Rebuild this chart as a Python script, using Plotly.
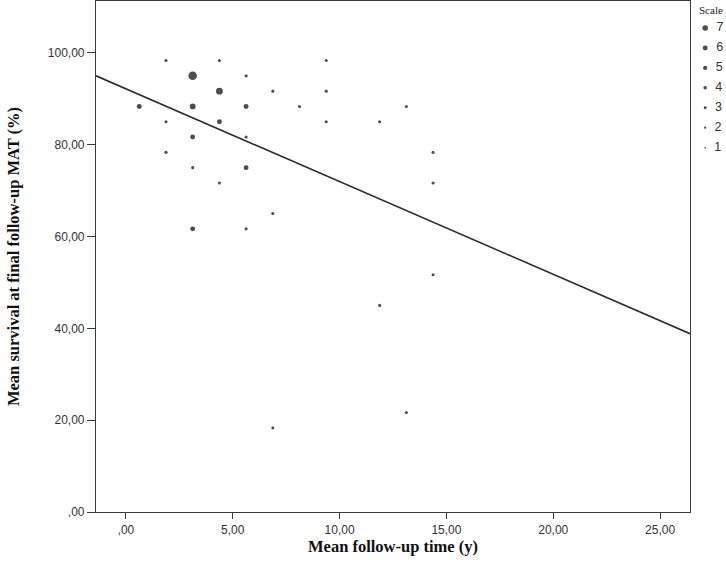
import plotly.graph_objects as go

# binned mean follow-up time (y), mean survival (%) and number of studies per point
follow_up = [1.875, 4.375, 9.375, 3.125, 5.625, 4.375, 6.875, 9.375,
             0.625, 3.125, 5.625, 8.125, 13.125, 1.875, 4.375, 9.375,
             11.875, 3.125, 5.625, 1.875, 14.375, 3.125, 5.625, 4.375,
             14.375, 6.875, 3.125, 5.625, 14.375, 11.875, 13.125, 6.875]
survival = [98.33, 98.33, 98.33, 95.0, 95.0, 91.67, 91.67, 91.67,
            88.33, 88.33, 88.33, 88.33, 88.33, 85.0, 85.0, 85.0,
            85.0, 81.67, 81.67, 78.33, 78.33, 75.0, 75.0, 71.67,
            71.67, 65.0, 61.67, 61.67, 51.67, 45.0, 21.67, 18.33]
scale = [1, 1, 1, 7, 1, 5, 1, 1,
         3, 4, 3, 1, 1, 1, 3, 1,
         1, 3, 1, 1, 1, 1, 3, 1,
         1, 1, 3, 1, 1, 1, 1, 1]

# fitted line: survival = intercept + slope * time
fit_intercept = 92.17
fit_slope = -2.02

legend_scale = [7, 6, 5, 4, 3, 2, 1]

x_ticks = [0, 5, 10, 15, 20, 25]
x_labels = [",00", "5,00", "10,00", "15,00", "20,00", "25,00"]
y_ticks = [0, 20, 40, 60, 80, 100]
y_labels = [",00", "20,00", "40,00", "60,00", "80,00", "100,00"]

X_RANGE = [-1.4, 26.4]
Y_RANGE = [0, 111.3]

AXIS_COL = "#3a3a3a"
TICK_FONT = dict(family="Liberation Sans, Arial", size=12, color="#333333")
TITLE_FONT = dict(family="Liberation Serif, Times New Roman", size=16.5, color="#111111")

fig = go.Figure()

fig.add_trace(go.Scatter(
    x=X_RANGE,
    y=[fit_intercept + fit_slope * v for v in X_RANGE],
    mode="lines",
    line=dict(color="#2b2b2b", width=1.6),
    hoverinfo="skip",
))

fig.add_trace(go.Scatter(
    x=follow_up,
    y=survival,
    mode="markers",
    marker=dict(color="black", size=[2.2 + 0.9 * s for s in scale], line=dict(width=0)),
    customdata=scale,
    hovertemplate="%{x}, %{y} (n=%{customdata})<extra></extra>",
))

# "Scale" key drawn on its own small axes to the right of the frame
fig.add_trace(go.Scatter(
    x=[0] * len(legend_scale),
    y=legend_scale,
    xaxis="x2",
    yaxis="y2",
    mode="markers+text",
    text=["\u00a0\u00a0" + str(s) for s in legend_scale],
    textposition="middle right",
    textfont=dict(family="Liberation Sans, Arial", size=12.5, color="#333333"),
    marker=dict(color="black", size=[1 + 0.65 * s for s in legend_scale], line=dict(width=0)),
    cliponaxis=False,
    hoverinfo="skip",
))

fig.update_layout(
    width=726,
    height=579,
    margin=dict(l=96, r=0, t=1, b=67),
    paper_bgcolor="white",
    plot_bgcolor="white",
    showlegend=False,
    xaxis=dict(
        domain=[0, 0.9429],
        range=X_RANGE,
        tickvals=x_ticks,
        ticktext=x_labels,
        ticks="outside",
        ticklen=6,
        tickwidth=1.2,
        tickcolor=AXIS_COL,
        tickfont=TICK_FONT,
        showline=True,
        mirror=True,
        linecolor=AXIS_COL,
        linewidth=1.2,
        showgrid=False,
        zeroline=False,
        title=dict(text="<b>Mean follow-up time (y)</b>", font=TITLE_FONT, standoff=4),
    ),
    yaxis=dict(
        range=Y_RANGE,
        tickvals=y_ticks,
        ticktext=y_labels,
        ticks="outside",
        ticklen=8,
        tickwidth=1.2,
        tickcolor=AXIS_COL,
        tickfont=TICK_FONT,
        showline=True,
        mirror=True,
        linecolor=AXIS_COL,
        linewidth=1.2,
        showgrid=False,
        zeroline=False,
        title=dict(text="<b>Mean survival at final follow-up MAT (%)</b>", font=TITLE_FONT, standoff=24),
    ),
    xaxis2=dict(domain=[0.9587, 1.0], range=[-0.2, 0.8], anchor="y2", visible=False),
    yaxis2=dict(domain=[0.6935, 0.9667], range=[0.5, 7.5], anchor="x2", visible=False),
    annotations=[dict(
        text="Scale", xref="paper", yref="paper", x=0.976, y=0.982,
        xanchor="center", yanchor="middle", showarrow=False,
        font=dict(family="Liberation Serif, Times New Roman", size=11, color="#222222"),
    )],
)

# drop the page's default body margin so the figure fills the window exactly
fig.write_html(
    "out.html",
    config={"displayModeBar": False},
    post_script="document.body.style.margin='0';",
)
